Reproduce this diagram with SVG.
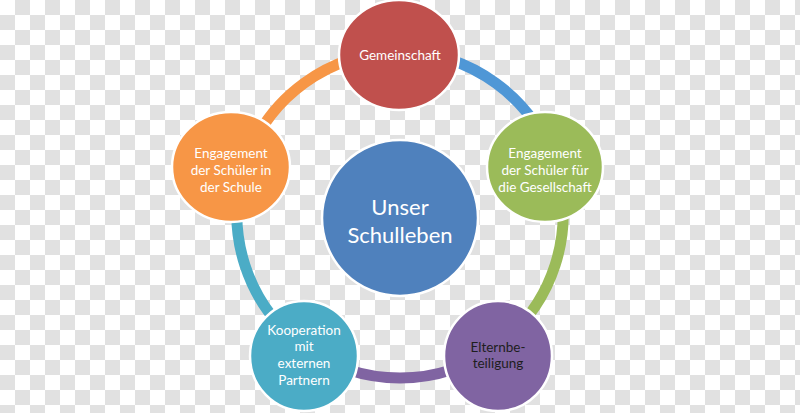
<svg xmlns="http://www.w3.org/2000/svg" width="800" height="413" viewBox="0 0 800 413">
<defs>
<pattern id="checker" width="30" height="30" patternUnits="userSpaceOnUse">
<rect width="30" height="30" fill="#ffffff"/>
<rect x="15" y="0" width="15" height="15" fill="#e1e1e1"/>
<rect x="0" y="15" width="15" height="15" fill="#e1e1e1"/>
</pattern>
</defs>
<style>
.arc{fill:none;stroke-width:11;stroke-linecap:butt}
.node{stroke:#ffffff;stroke-width:2.5}
.t{font-family:Lato,"Open Sans","Liberation Sans",sans-serif;font-size:13.5px;fill:#ffffff;text-anchor:middle}
.big{font-size:22px}
.dark{fill:#1e1e1e}
</style>
<rect width="800" height="413" fill="url(#checker)"/>
<g id="connectors">
<path class="arc" stroke="#4f97d6" d="M 400 52 A 163 163 0 0 1 555 164.6"/>
<path class="arc" stroke="#9bbb59" d="M 555 164.6 A 163 163 0 0 1 495.8 346.9"/>
<path class="arc" stroke="#8064a2" d="M 495.8 346.9 A 163 163 0 0 1 304.2 346.9"/>
<path class="arc" stroke="#4bacc6" d="M 304.2 346.9 A 163 163 0 0 1 245 164.6"/>
<path class="arc" stroke="#f79646" d="M 245 164.6 A 163 163 0 0 1 400 52"/>
</g>
<g id="center">
<circle class="node" cx="400" cy="218" r="78" fill="#4f81bd"/>
<text class="t big" x="400" y="215">Unser</text>
<text class="t big" x="400" y="243">Schulleben</text>
</g>
<g id="gemeinschaft">
<ellipse class="node" cx="399" cy="55" rx="60" ry="55" fill="#c0504d"/>
<text class="t" x="400" y="60">Gemeinschaft</text>
</g>
<g id="gesellschaft">
<ellipse class="node" cx="545" cy="167" rx="58" ry="55" fill="#9bbb59"/>
<text class="t" x="545" y="158">Engagement</text>
<text class="t" x="545" y="175">der Schüler für</text>
<text class="t" x="545" y="192">die Gesellschaft</text>
</g>
<g id="schule">
<ellipse class="node" cx="231" cy="167" rx="59" ry="55" fill="#f79646"/>
<text class="t" x="231" y="158">Engagement</text>
<text class="t" x="231" y="175">der Schüler in</text>
<text class="t" x="231" y="192">der Schule</text>
</g>
<g id="kooperation">
<ellipse class="node" cx="304" cy="356" rx="54" ry="55" fill="#4bacc6"/>
<text class="t" x="304" y="335">Kooperation</text>
<text class="t" x="304" y="351">mit</text>
<text class="t" x="304" y="368">externen</text>
<text class="t" x="304" y="385">Partnern</text>
</g>
<g id="eltern">
<ellipse class="node" cx="498" cy="356" rx="54" ry="55" fill="#8064a2"/>
<text class="t dark" x="498" y="352">Elternbe-</text>
<text class="t dark" x="498" y="368">teiligung</text>
</g>
</svg>
